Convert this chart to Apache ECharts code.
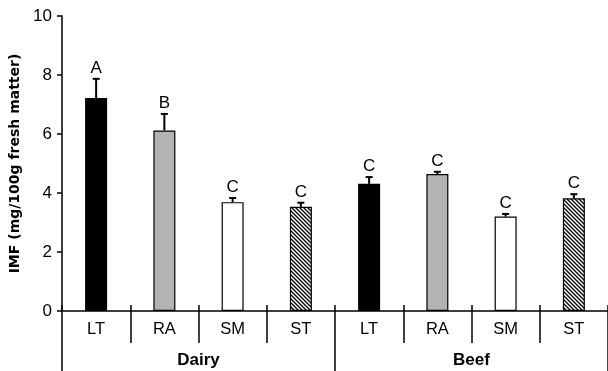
<!DOCTYPE html>
<html><head><meta charset="utf-8">
<script src="https://cdn.jsdelivr.net/npm/echarts@6/dist/echarts.min.js"></script>
<style>html,body{margin:0;padding:0;background:#fff}#c{width:608px;height:371px}</style>
</head><body><div id="c"></div>
<script>
var categories = ['LT','RA','SM','ST','LT','RA','SM','ST'];
var groups = ['Dairy','Beef'];
var values = [7.22, 6.12, 3.69, 3.53, 4.31, 4.64, 3.20, 3.82];
var errors = [0.65, 0.56, 0.14, 0.14, 0.23, 0.08, 0.09, 0.14];
var letters = ['A','B','C','C','C','C','C','C'];
var yTicks = [0, 2, 4, 6, 8, 10];

var FONT = 'Liberation Sans, Arial, sans-serif';

function hatch(){
  var c = document.createElement('canvas');
  c.width = 4; c.height = 4;
  var g = c.getContext('2d');
  g.fillStyle = '#fff'; g.fillRect(0,0,4,4);
  g.strokeStyle = '#000'; g.lineWidth = 1.3;
  g.beginPath();
  g.moveTo(-1,-1); g.lineTo(5,5);
  g.moveTo(-1,3); g.lineTo(1,5);
  g.moveTo(3,-1); g.lineTo(5,1);
  g.stroke();
  return c;
}
var fills = {LT:'#000000', RA:'#b3b3b3', SM:'#ffffff', ST:{image: hatch(), repeat:'repeat'}};

var chart = echarts.init(document.getElementById('c'), null, {renderer:'canvas'});
var barData = values.map(function(v,i){
  return {value:v, itemStyle:{color: fills[categories[i]], borderColor:'#000', borderWidth:1.2}};
});
var errData = values.map(function(v,i){ return [i, v, errors[i]]; });

chart.setOption({
  animation:false,
  backgroundColor:'#fff',
  grid:{left:62, top:16, right:0, bottom:60, containLabel:false},
  xAxis:[
    {type:'category', data:categories, position:'bottom',
     axisLine:{show:true, lineStyle:{color:'#000', width:1.5}},
     axisTick:{show:true, interval:0, alignWithLabel:false, length:32, lineStyle:{color:'#000', width:1.5}},
     axisLabel:{interval:0, margin:10, fontSize:16.5, color:'#000', fontFamily:FONT},
     splitLine:{show:false}},
    {type:'category', data:categories, position:'bottom',
     axisLine:{show:false},
     axisTick:{show:true, inside:true, interval:0, alignWithLabel:false, length:6, lineStyle:{color:'#000', width:1.5}},
     axisLabel:{show:false}, splitLine:{show:false}},
    {type:'category', data:groups, position:'bottom',
     axisLine:{show:false},
     axisTick:{show:true, interval:0, alignWithLabel:false, length:60, lineStyle:{color:'#000', width:1.5}},
     axisLabel:{interval:0, margin:41, fontSize:17, fontWeight:'bold', color:'#000', fontFamily:FONT},
     splitLine:{show:false}}
  ],
  yAxis:{type:'value', min:yTicks[0], max:yTicks[yTicks.length-1], interval:2,
    name:'IMF (mg/100g fresh matter)', nameLocation:'middle', nameGap:37, nameRotate:90,
    nameTextStyle:{fontSize:14, fontWeight:'bold', color:'#000', fontFamily:'DejaVu Sans, sans-serif'},
    axisLine:{show:true, lineStyle:{color:'#000', width:1.5}},
    axisTick:{show:true, length:5, lineStyle:{color:'#000', width:1.5}},
    axisLabel:{fontSize:17, color:'#000', margin:10, fontFamily:FONT},
    splitLine:{show:false}},
  series:[
    {type:'bar', xAxisIndex:0, data:barData, barWidth:22},
    {type:'custom', xAxisIndex:0, data:errData, z:5,
     renderItem:function(params, api){
       var i = api.value(0), v = api.value(1), e = api.value(2);
       var p0 = api.coord([i, v]);
       var p1 = api.coord([i, v+e]);
       var st = {stroke:'#000', lineWidth:2};
       return {type:'group', children:[
         {type:'line', shape:{x1:p0[0], y1:p0[1], x2:p1[0], y2:p1[1]}, style:st},
         {type:'line', shape:{x1:p1[0]-3.5, y1:p1[1], x2:p1[0]+3.5, y2:p1[1]}, style:st},
         {type:'text', style:{text:letters[params.dataIndex], x:p1[0], y:p1[1]-2,
           align:'center', verticalAlign:'bottom', fontSize:17, fontFamily:FONT, fill:'#000'}}
       ]};
     }}
  ]
});
</script></body></html>
